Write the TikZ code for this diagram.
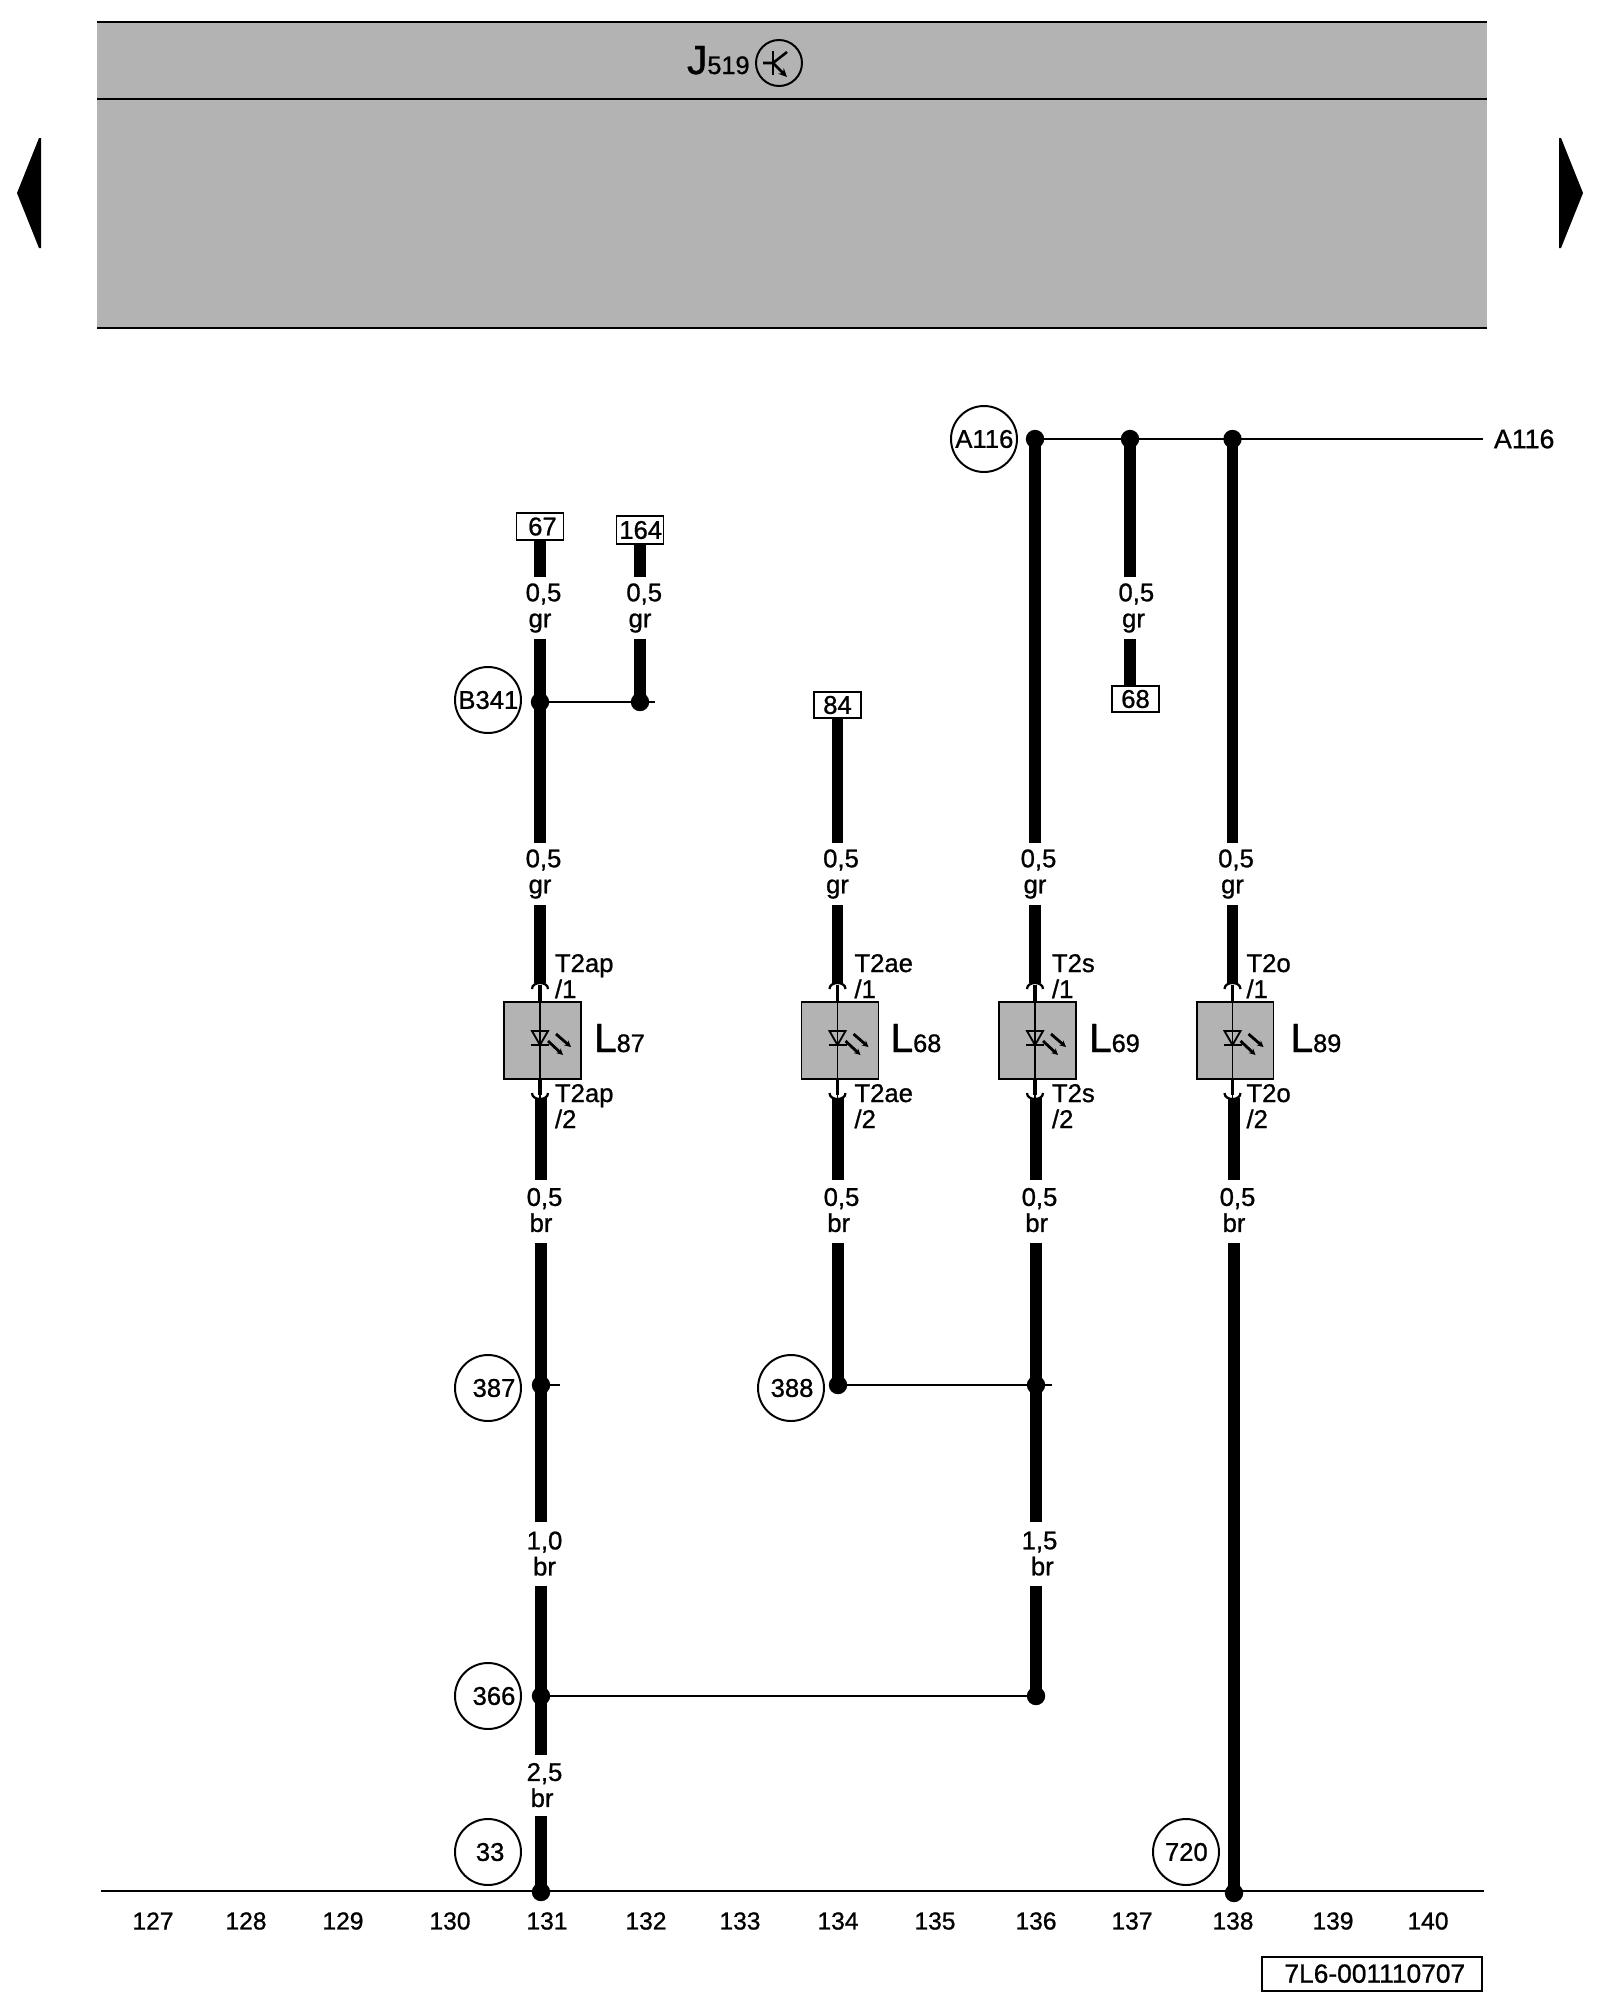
\documentclass[tikz,border=0pt]{standalone}
\usepackage{fontspec}
\setmainfont{Liberation Sans}[FakeBold=0.9]
\usetikzlibrary{arrows.meta}
\definecolor{panel}{RGB}{179,179,179}
\tikzset{
  wire/.style={line width=16pt},
  fine/.style={line width=2.6pt},
  outline/.style={line width=2.8pt},
  joint/.style={circle,fill=black,inner sep=0pt,minimum size=0.92cm},
  tag/.style={circle,draw,outline,inner sep=0pt,minimum size=3.3cm,font=\lab},
  pin/.style={draw,outline,inner sep=0pt,fill=white,minimum width=2.35cm,minimum height=1.33cm,font=\lab},
  wl/.style={inner sep=0pt,outer sep=0pt,align=center,font=\lab,minimum width=0.5cm},
  tx/.style={inner sep=0pt,outer sep=0pt,font=\lab},
  lampbox/.style={draw,outline,fill=panel,inner sep=0pt,minimum width=3.85cm,minimum height=3.85cm},
  ph/.style={line width=4pt,-{Stealth[length=9pt,width=9pt]}},
}
\newcommand{\lab}{\fontsize{36.5}{37}\selectfont}
\newcommand{\nlab}{\fontsize{35}{37}\selectfont}
\newcommand{\sh}[1]{\hspace*{10pt}#1}
\newcommand{\lift}{0pt}
\newcommand{\wlab}[6]{\node[wl,minimum height={(#4-#3)*0.05cm}] (#1) at (#2,{(#3+#4)/2}) {\raisebox{\lift}{#5}\\\raisebox{\lift}{#6}};}
\begin{document}
\begin{tikzpicture}[x=0.05cm,y=-0.05cm]
\useasboundingbox (0,0) rectangle (1600,2000);
% header
\fill[panel] (97,22) rectangle (1487,328);
\draw[outline] (97,22) -- (1487,22);
\draw[outline] (97,99) -- (1487,99);
\draw[outline] (97,328) -- (1487,328);
\fill (17,193) -- (39,138) -- (41,138) -- (41,248) -- (39,248) -- cycle;
\fill (1583,193) -- (1561,138) -- (1559,138) -- (1559,248) -- (1561,248) -- cycle;
\node[tx,anchor=base west] (jname) at (687,74) {\fontsize{58}{60}\selectfont J\fontsize{36}{37}\selectfont 519};
\node[circle,draw,outline,inner sep=0pt,minimum size=2.3cm] (jsym) at (779,63) {};
\draw[line width=3.6pt] (773,51) -- (773,75);
\draw[line width=3.6pt] (763,63) -- (773,63) -- (787,52);
\draw[line width=3.6pt,-{Stealth[length=12pt,width=11pt]}] (773,63) -- (787,77);
% lamps
\foreach \n/\x/\a/\b/\o/\q in {87/540/T2ap/T2ap/15/54,68/837.5/T2ae/T2ae/17/53,69/1035/T2s/T2s/17/54,89/1232.5/T2o/T2o/14/58}{
  \node[lampbox] (lamp\n) at (\x+2.5,1040.5) {};
  \coordinate (in\n) at (\x,983);
  \coordinate (out\n) at (\x,1098);
  \draw[fine] (\x,985) -- (\x,1098);
  \draw[line width=5.5pt] (\x,985) -- (\x,1003);
  \draw[line width=3.2pt] (\x-8,989) .. controls (\x-8,981) and (\x+8,981) .. (\x+8,989);
  \draw[line width=3.2pt] (\x-8,1093) .. controls (\x-8,1101) and (\x+8,1101) .. (\x+8,1093);
  \draw[line width=5.5pt] (\x,1079) -- (\x,1095);
  \draw[fine] (\x-8,1031) -- (\x+8,1031) -- (\x,1045) -- cycle;
  \draw[fine] (\x-9,1045) -- (\x+9,1045);
  \draw[ph] (\x+16,1034) -- (\x+31,1047);
  \draw[ph] (\x+8,1041) -- (\x+23,1055);
  \node[tx,anchor=base west] (tu\n) at (\x+\o,972) {\a};
  \node[tx,anchor=base west] (tv\n) at (\x+\o,998) {/1};
  \node[tx,anchor=base west] (bu\n) at (\x+\o,1102) {\b};
  \node[tx,anchor=base west] (bv\n) at (\x+\o,1128) {/2};
  \node[tx,anchor=base west] (name\n) at (\x+\q,1052) {\fontsize{58}{60}\selectfont L\fontsize{36}{37}\selectfont \n};
}
% terminals
\node[pin] (p67) at (540,526.5) {\raisebox{-1.5pt}{\hspace*{7pt}67}};
\node[pin,minimum height=1.4cm] (p164) at (640,530) {\raisebox{-1.5pt}{\hspace*{2pt}164}};
\node[pin,minimum height=1.3cm] (p84) at (837.5,705) {\raisebox{-1.5pt}{84}};
\node[pin,minimum height=1.3cm] (p68) at (1135.5,699) {\raisebox{-1.5pt}{68}};
% wire labels
\renewcommand{\lift}{-3.5pt}
\wlab{a1}{540}{577}{639}{\sh{0,5}}{gr}
\wlab{a2}{640}{577}{639}{\hspace*{12pt}0,5}{gr}
\wlab{a3}{540}{843}{905}{\sh{0,5}}{gr}
\wlab{a4}{837.5}{843}{905}{\sh{0,5}}{gr}
\wlab{a5}{1035}{843}{905}{\sh{0,5}}{gr}
\wlab{a6}{1232.5}{843}{905}{\sh{0,5}}{gr}
\wlab{a7}{1130}{577}{639}{\hspace*{18pt}0,5}{\sh{gr}}
\renewcommand{\lift}{4.5pt}
\wlab{b1}{541}{1180}{1243}{\sh{0,5}}{br}
\wlab{b2}{838}{1180}{1243}{\sh{0,5}}{\hspace*{2pt}br}
\wlab{b3}{1036}{1180}{1243}{\sh{0,5}}{\hspace*{2pt}br}
\wlab{b4}{1234}{1180}{1243}{\sh{0,5}}{br}
\renewcommand{\lift}{1.5pt}
\wlab{c1}{541}{1522}{1586}{\sh{1,0}}{\sh{br}}
\wlab{c2}{1036}{1522}{1586}{\sh{1,5}}{\hspace*{18pt}br}
\wlab{c3}{541}{1755}{1816}{\sh{2,5}}{\hspace*{3pt}br}
% junctions and reference tags
\node[joint] (jb1) at (540,702) {};
\node[joint] (jb2) at (640,702) {};
\node[joint] (ja1) at (1035,439) {};
\node[joint] (ja2) at (1130,439) {};
\node[joint] (ja3) at (1232.5,439) {};
\node[joint] (j387) at (541,1385) {};
\node[joint] (j388) at (838,1385) {};
\node[joint] (j388b) at (1036,1385) {};
\node[joint] (j366) at (541,1696) {};
\node[joint] (j366b) at (1036,1696) {};
\node[joint] (j33) at (541,1892) {};
\node[joint] (j720) at (1234,1893) {};
\node[tag] (tB) at (488,700) {\hspace*{1pt}B341};
\node[tag] (tA) at (984,439) {\hspace*{1pt}A116};
\node[tag] (t387) at (488,1388) {\hspace*{17pt}387};
\node[tag] (t388) at (791,1388) {\hspace*{3pt}388};
\node[tag] (t366) at (488,1696) {\hspace*{17pt}366};
\node[tag] (t33) at (488,1852) {\hspace*{6pt}33};
\node[tag] (t720) at (1186,1852) {\hspace*{1pt}720};
% free ends
\coordinate (e1) at (655,702);
\coordinate (e2) at (1483,439);
\coordinate (e3) at (560,1385);
\coordinate (e4) at (1052,1385);
\coordinate (g1) at (101,1891);
\coordinate (g2) at (1484,1891);
% thin connectors
\draw[fine] (jb1) -- (e1);
\draw[fine] (ja1) -- (e2);
\draw[fine] (j387) -- (e3);
\draw[fine] (j388) -- (e4);
\draw[fine] (j366) -- (j366b);
\draw[fine] (g1) -- (g2);
% thick wires
\draw[wire] (p67.south) -- (a1.north);
\draw[wire] (a1.south) -- (jb1.center) -- (a3.north);
\draw[wire] (a3.south) -- (in87);
\draw[wire] (p164.south) -- (a2.north);
\draw[wire] (a2.south) -- (jb2.center);
\draw[wire] (p84.south) -- (a4.north);
\draw[wire] (a4.south) -- (in68);
\draw[wire] (ja1.center) -- (a5.north);
\draw[wire] (a5.south) -- (in69);
\draw[wire] (ja2.center) -- (a7.north);
\draw[wire] (a7.south) -- (a7.south |- p68.north);
\draw[wire] (ja3.center) -- (a6.north);
\draw[wire] (a6.south) -- (in89);
\draw[wire] (b1.north |- out87) -- (b1.north);
\draw[wire] (b2.north |- out68) -- (b2.north);
\draw[wire] (b3.north |- out69) -- (b3.north);
\draw[wire] (b4.north |- out89) -- (b4.north);
\draw[wire] (b1.south) -- (c1.north);
\draw[wire] (c1.south) -- (c3.north);
\draw[wire] (c3.south) -- (j33.center);
\draw[wire] (b2.south) -- (j388.center);
\draw[wire] (b3.south) -- (c2.north);
\draw[wire] (c2.south) -- (j366b.center);
\draw[wire] (b4.south) -- (j720.center);
% text
\node[tx,anchor=west,font=\fontsize{38}{40}\selectfont] (rA) at (1494,439) {A116};
\foreach \v/\x in {127/153,128/246,129/343,130/450,131/547,132/646,133/740,134/838,135/935,136/1036,137/1132,138/1233,139/1333,140/1428}{
  \node[tx,font=\nlab] (n\v) at (\x,1921) {\v};
}
\node[draw,outline,inner sep=0pt,minimum width=11cm,minimum height=1.7cm,font=\fontsize{37.5}{40}\selectfont] (doc) at (1372,1974) {\hspace*{8pt}\raisebox{1.5pt}{7L6-001110707}};
\end{tikzpicture}
\end{document}
